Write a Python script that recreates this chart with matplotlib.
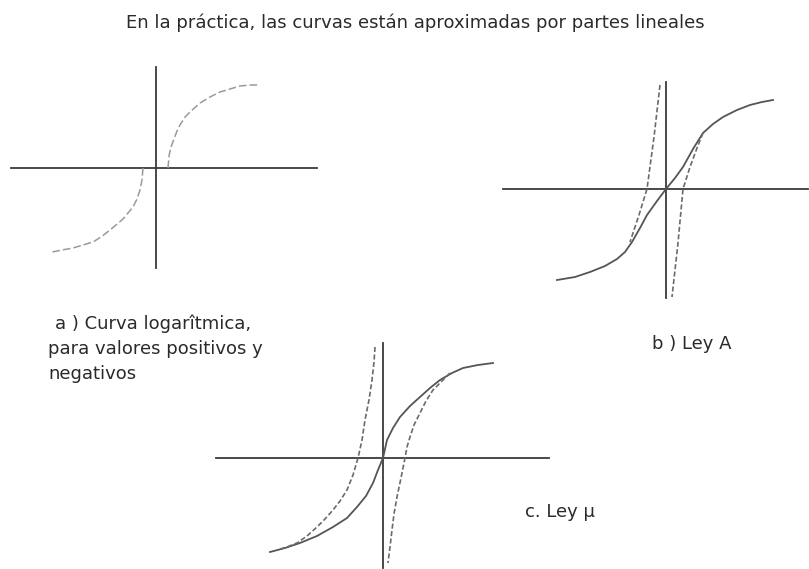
import matplotlib
matplotlib.use("Agg")
import matplotlib.pyplot as plt

plt.rcParams["font.family"] = ["DejaVu Sans"]

# --- a) curva logaritmica (pixel coordinates of the drawing) ---
a_hx, a_hy = [11, 317], [168, 168]
a_vx, a_vy = [156, 156], [67, 268]
a_pos_x = [168, 169, 171, 174, 177, 180, 185, 190, 200, 210, 220, 230, 240, 250, 258]
a_pos_y = [168, 156, 147, 139, 131, 125, 117, 112, 103, 97, 92, 89, 86, 85, 85]
a_neg_x = [143, 142, 140, 137, 133, 128, 123, 116, 110, 101, 93, 83, 73, 62, 52]
a_neg_y = [168, 180, 190, 199, 207, 213, 219, 225, 230, 237, 242, 245, 248, 250, 252]

# --- b) Ley A ---
b_hx, b_hy = [503, 808], [189, 189]
b_vx, b_vy = [666, 666], [82, 298]
b_sol_x = [557, 575, 590, 605, 617, 625, 632, 640, 647, 657, 666, 675, 683, 693, 703, 713, 723, 737, 750, 762, 773]
b_sol_y = [280, 277, 272, 266, 259, 252, 242, 228, 215, 201, 189, 178, 167, 149, 133, 124, 117, 110, 105, 102, 100]
b_dl_x = [660, 654, 647, 639, 630]
b_dl_y = [85, 137, 189, 215, 242]
b_dr_x = [703, 697, 690, 683, 678, 672]
b_dr_y = [133, 148, 167, 189, 243, 297]

# --- c) Ley mu ---
c_hx, c_hy = [216, 549], [458, 458]
c_vx, c_vy = [383, 383], [343, 568]
c_sol_x = [270, 285, 300, 317, 333, 347, 357, 366, 373, 378, 383, 387, 393, 400, 410, 420, 430, 440, 452, 463, 478, 493]
c_sol_y = [552, 548, 543, 536, 527, 518, 507, 496, 483, 470, 458, 440, 428, 417, 406, 397, 388, 380, 373, 368, 365, 363]
c_dl_x = [375, 374, 372, 369, 365, 362, 358, 353, 347, 340, 333, 325, 317, 307, 297, 287, 277]
c_dl_y = [347, 362, 380, 400, 420, 440, 458, 475, 490, 501, 510, 519, 527, 536, 543, 547, 550]
c_dr_x = [450, 442, 433, 426, 420, 414, 410, 407, 405, 401, 397, 394, 392, 390, 388]
c_dr_y = [373, 381, 390, 401, 413, 425, 437, 447, 458, 478, 497, 514, 530, 547, 563]

title = "En la práctica, las curvas están aproximadas por partes lineales"
label_a = ["a ) Curva logarîtmica,", "para valores positivos y", "negativos"]
label_b = "b ) Ley A"
label_c = "c. Ley µ"

axis_color = "#3a3a3a"
solid_color = "#555555"
dash_color = "#6a6a6a"
light_dash = "#9a9a9a"
text_color = "#2a2a2a"

fig = plt.figure(figsize=(8.09, 5.69), dpi=100)
ax = fig.add_axes([0, 0, 1, 1])
ax.set_xlim(0, 809)
ax.set_ylim(569, 0)
ax.axis("off")

for hx, hy, vx, vy in [(a_hx, a_hy, a_vx, a_vy), (b_hx, b_hy, b_vx, b_vy), (c_hx, c_hy, c_vx, c_vy)]:
    ax.plot(hx, hy, color=axis_color, lw=1.3)
    ax.plot(vx, vy, color=axis_color, lw=1.3)

ax.plot(a_pos_x, a_pos_y, color=light_dash, lw=1.1, ls=(0, (5, 2)))
ax.plot(a_neg_x, a_neg_y, color=light_dash, lw=1.1, ls=(0, (5, 2)))

ax.plot(b_sol_x, b_sol_y, color=solid_color, lw=1.3)
ax.plot(b_dl_x, b_dl_y, color=dash_color, lw=1.2, ls=(0, (3, 1.5)))
ax.plot(b_dr_x, b_dr_y, color=dash_color, lw=1.2, ls=(0, (3, 1.5)))

ax.plot(c_sol_x, c_sol_y, color=solid_color, lw=1.3)
ax.plot(c_dl_x, c_dl_y, color=dash_color, lw=1.2, ls=(0, (3, 1.5)))
ax.plot(c_dr_x, c_dr_y, color=dash_color, lw=1.2, ls=(0, (3, 1.5)))

fs = 13
ax.text(415, 23, title, ha="center", va="center", fontsize=fs, color=text_color)
for i, line in enumerate(label_a):
    ax.text(55 if i == 0 else 48, 324 + 25 * i, line, ha="left", va="center",
            fontsize=fs, color=text_color)
ax.text(652, 344, label_b, ha="left", va="center", fontsize=fs, color=text_color)
ax.text(525, 512, label_c, ha="left", va="center", fontsize=fs, color=text_color)

fig.savefig("out.png", dpi=100, facecolor="white")
